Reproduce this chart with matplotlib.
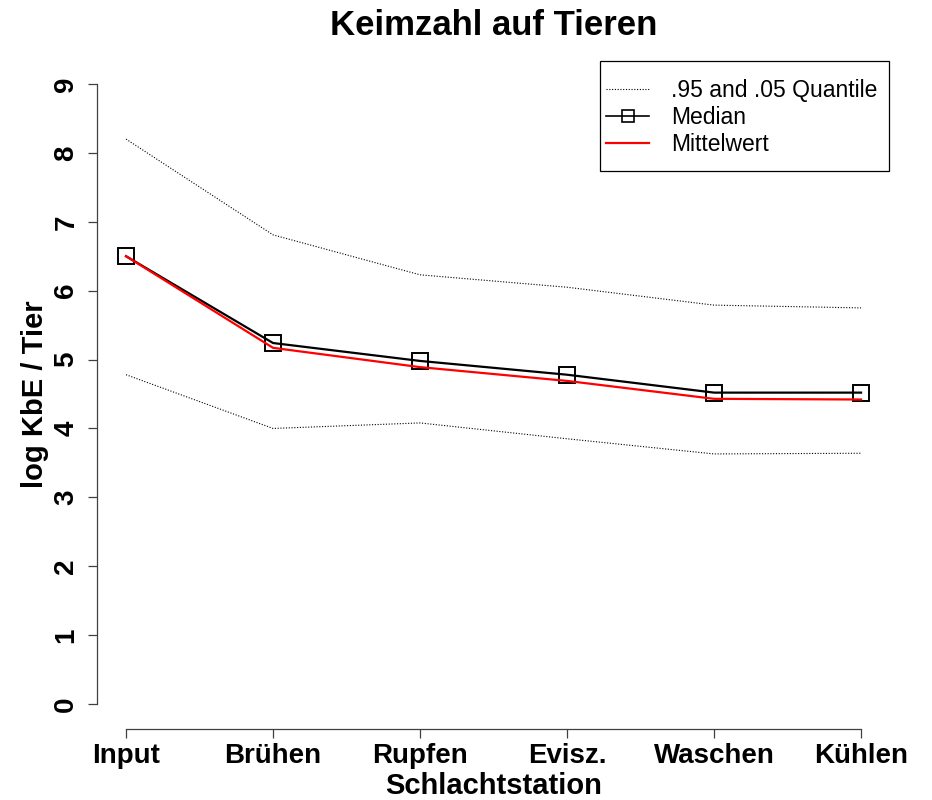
import matplotlib
matplotlib.use("Agg")
import matplotlib.pyplot as plt
from matplotlib.lines import Line2D
from matplotlib.patches import Rectangle

stations = ["Input", "Brühen", "Rupfen", "Evisz.", "Waschen", "Kühlen"]
median = [6.50, 5.24, 4.98, 4.78, 4.52, 4.52]
mittelwert = [6.50, 5.17, 4.89, 4.69, 4.43, 4.42]
q95 = [8.20, 6.81, 6.23, 6.05, 5.79, 5.75]
q05 = [4.78, 4.00, 4.08, 3.85, 3.63, 3.64]
yticks = [0, 1, 2, 3, 4, 5, 6, 7, 8, 9]

plt.rcParams['font.family'] = ['Liberation Sans', 'DejaVu Sans']

fig = plt.figure(figsize=(9.32, 8.0), dpi=100)
ax = fig.add_axes([0.1037, 0.089, 0.9554 - 0.1037, 0.926 - 0.089])

x = list(range(1, len(stations) + 1))
dot = (0, (1, 1.5))
ax.plot(x, q95, color='black', linestyle=dot, linewidth=0.8)
ax.plot(x, q05, color='black', linestyle=dot, linewidth=0.8)
ax.plot(x, median, color='black', linewidth=1.6, marker='s', markersize=11,
        markerfacecolor='none', markeredgecolor='black', markeredgewidth=1.4)
ax.plot(x, mittelwert, color='red', linewidth=1.6)

ax.set_xlim(1 - 0.04 * 5, 6 + 0.04 * 5)
ax.set_ylim(0 - 0.04 * 9, 9 + 0.04 * 9)

for s in ['top', 'right']:
    ax.spines[s].set_visible(False)
ax.spines['left'].set_bounds(0, 9)
ax.spines['bottom'].set_bounds(1, 6)
for s in ['left', 'bottom']:
    ax.spines[s].set_color('#404040')
    ax.spines[s].set_linewidth(0.9)

ax.set_xticks(x)
ax.set_xticklabels(stations, fontsize=20, fontweight='bold')
ax.set_yticks(yticks)
ax.set_yticklabels([str(v) for v in yticks], fontsize=20, fontweight='bold',
                   rotation=90, va='center')
ax.tick_params(axis='both', direction='out', length=6.5, width=0.9, color='#404040')
ax.tick_params(axis='x', pad=3.5)
ax.tick_params(axis='y', pad=6)

ax.set_xlabel("Schlachtstation", fontsize=21, fontweight='bold', labelpad=2.5)
ax.set_ylabel("log KbE / Tier", fontsize=21, fontweight='bold', labelpad=3)
ax.text(0.5, 1.051, "Keimzahl auf Tieren", transform=ax.transAxes,
        fontsize=25, fontweight='bold', ha='center', va='center')

handles = [
    Line2D([], [], color='black', linestyle=dot, linewidth=0.8),
    Line2D([], [], color='black', linewidth=1.2, marker='s', markersize=9,
           markerfacecolor='none', markeredgecolor='black', markeredgewidth=1.2),
    Line2D([], [], color='red', linewidth=1.6),
]
leg = ax.legend(handles, [".95 and .05 Quantile", "Median", "Mittelwert"],
                loc='upper right', bbox_to_anchor=(0.991, 0.9785),
                borderaxespad=0.0,
                fontsize=16.5, frameon=False, handlelength=1.9, handletextpad=0.95,
                borderpad=0.25, labelspacing=0.17)

# R-style legend box: tight at the sides, generous above and below
fig.canvas.draw()
bb = leg.get_window_extent()
inv = fig.transFigure.inverted()
(x0, y0) = inv.transform((bb.x0, bb.y0 - 9))
(x1, y1) = inv.transform((bb.x1 + 6, bb.y1 + 13))
fig.patches.append(Rectangle((x0, y0), x1 - x0, y1 - y0, transform=fig.transFigure,
                             fill=False, edgecolor='black', linewidth=0.9,
                             figure=fig, zorder=5))

fig.savefig("out.png", dpi=100)
